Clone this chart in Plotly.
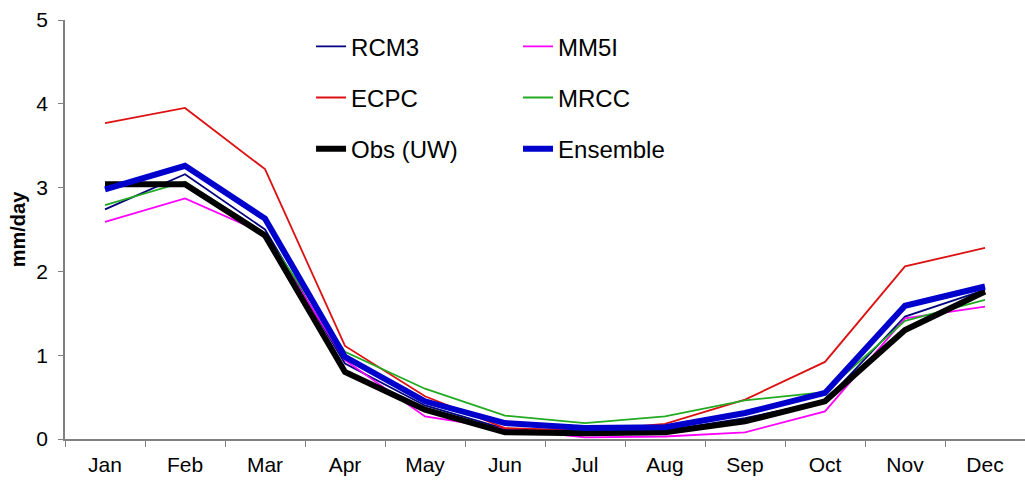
import plotly.graph_objects as go

months = ["Jan", "Feb", "Mar", "Apr", "May", "Jun", "Jul", "Aug", "Sep", "Oct", "Nov", "Dec"]
rcm3 = [2.74, 3.16, 2.50, 0.90, 0.40, 0.12, 0.10, 0.10, 0.25, 0.45, 1.46, 1.78]
mm5i = [2.59, 2.87, 2.45, 0.94, 0.27, 0.12, 0.02, 0.03, 0.08, 0.33, 1.44, 1.58]
ecpc = [3.77, 3.95, 3.22, 1.11, 0.51, 0.13, 0.10, 0.18, 0.47, 0.92, 2.06, 2.28]
mrcc = [2.79, 3.07, 2.45, 1.04, 0.60, 0.28, 0.19, 0.27, 0.46, 0.56, 1.41, 1.66]
obs = [3.04, 3.04, 2.43, 0.80, 0.35, 0.08, 0.07, 0.08, 0.21, 0.45, 1.30, 1.76]
ens = [2.98, 3.26, 2.63, 0.98, 0.45, 0.19, 0.13, 0.14, 0.31, 0.55, 1.59, 1.82]

FONT = "Liberation Sans, Arial, sans-serif"

series = [
    ("RCM3", rcm3, "#000080", 1.8, "legend"),
    ("MM5I", mm5i, "#ff00ff", 1.8, "legend2"),
    ("ECPC", ecpc, "#dd1111", 1.8, "legend"),
    ("MRCC", mrcc, "#22aa22", 1.8, "legend2"),
    ("Obs (UW)", obs, "#000000", 6, "legend"),
    ("Ensemble", ens, "#0000cc", 6, "legend2"),
]

fig = go.Figure()
for name, vals, color, w, lg in series:
    fig.add_trace(go.Scatter(
        x=months, y=vals, mode="lines", name=name,
        line=dict(color=color, width=w), legend=lg, legendgroup=name,
    ))

legend_common = dict(
    font=dict(family=FONT, size=24, color="black"),
    bgcolor="rgba(0,0,0,0)", traceorder="grouped", tracegroupgap=17,
    xanchor="left", yanchor="top", itemwidth=30,
)
fig.update_layout(
    width=1025, height=481,
    margin=dict(l=65, r=0, t=20, b=42),
    paper_bgcolor="white", plot_bgcolor="white",
    font=dict(family=FONT, size=21, color="black"),
    legend=dict(x=0.2563, y=0.99, **legend_common),
    legend2=dict(x=0.4719, y=0.99, **legend_common),
    xaxis=dict(
        type="category", tickson="boundaries", ticks="outside", ticklen=6,
        range=[-0.5, 11.5],
        tickcolor="#808080", showline=True, linecolor="#808080", linewidth=1.5,
        showgrid=False, zeroline=False, tickfont=dict(size=21),
        ticklabelstandoff=6,
    ),
    yaxis=dict(
        range=[0, 5], dtick=1, ticks="outside", ticklen=5, tickcolor="#808080",
        showline=True, linecolor="#808080", linewidth=1.5, showgrid=False,
        zeroline=False, tickfont=dict(size=21), ticklabelstandoff=6,
        title=dict(text="<b>mm/day</b>", font=dict(size=20), standoff=5),
    ),
)
fig.write_html("out.html")
